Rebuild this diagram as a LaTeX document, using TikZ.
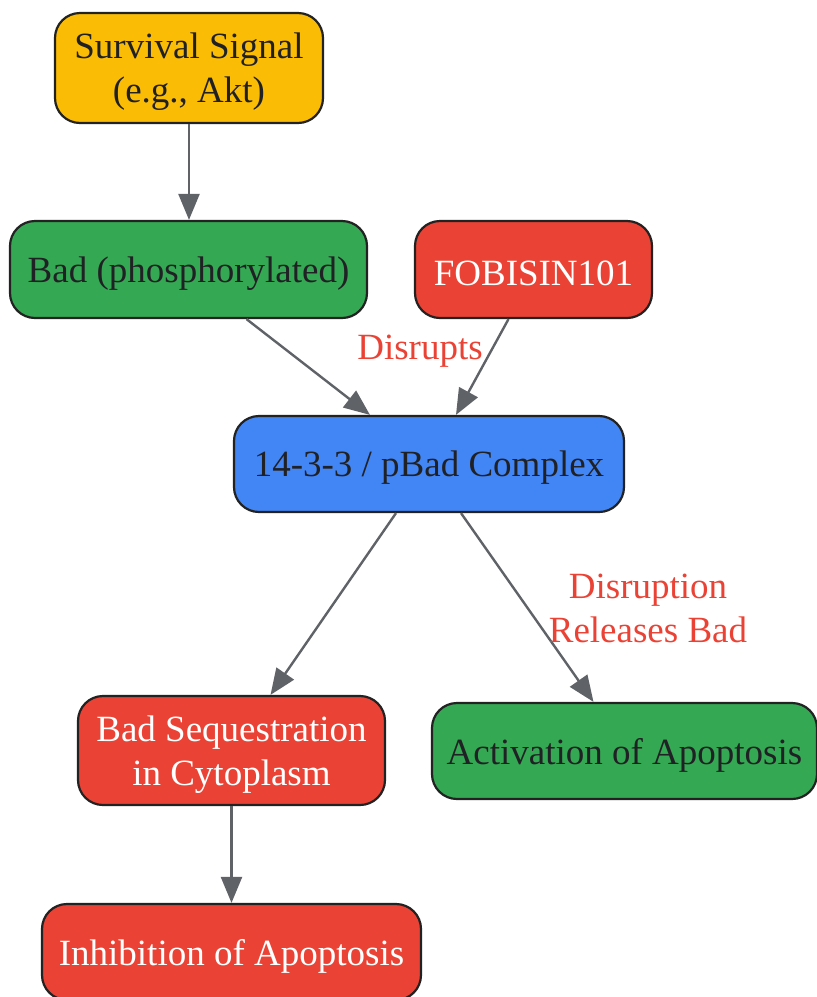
\documentclass[tikz,border=0pt]{standalone}
\usepackage{fontspec}
\setmainfont{Liberation Serif}
\usetikzlibrary{arrows.meta}
\definecolor{cyel}{HTML}{FBBC05}
\definecolor{cgreen}{HTML}{34A853}
\definecolor{cred}{HTML}{EA4335}
\definecolor{cblue}{HTML}{4285F4}
\definecolor{cedge}{HTML}{5F6368}
\definecolor{cborder}{HTML}{222222}
\definecolor{cdark}{HTML}{202124}
\tikzset{
  box/.style={draw=cborder, line width=2.2pt, rounded corners=25pt, inner sep=0pt},
  boxtext/.style={align=center, font=\fontsize{37}{44}\selectfont, inner sep=0pt},
  conn/.style={draw=cedge, line width=2.4pt, -{Triangle[length=26pt,width=21pt]}},
  elabel/.style={text=cred, font=\fontsize{37}{44}\selectfont, align=center}
}
\begin{document}
\begin{tikzpicture}[x=1pt,y=-1pt]
\useasboundingbox (0,0) rectangle (817,997);
\node[box, fill=cyel, minimum width=268pt, minimum height=110pt] (surv) at (189,68) {};
\node[box, fill=cgreen, minimum width=357pt, minimum height=97pt] (bad) at (188.5,269.5) {};
\node[box, fill=cred, minimum width=237pt, minimum height=97pt] (fob) at (533.5,269.5) {};
\node[box, fill=cblue, minimum width=390pt, minimum height=96pt] (cpx) at (429,464) {};
\node[box, fill=cred, minimum width=307pt, minimum height=109pt] (seq) at (231.5,750.5) {};
\node[box, fill=cgreen, minimum width=385pt, minimum height=96pt] (act) at (624.5,751) {};
\node[box, fill=cred, minimum width=379pt, minimum height=96pt] (inh) at (231.5,952) {};

\node[boxtext, text=cdark] (survt) at ([yshift=-4pt]surv.center) {Survival Signal\\(e.g., Akt)};
\node[boxtext, text=cdark] (badt) at ([yshift=-4pt]bad.center) {Bad (phosphorylated)};
\node[boxtext, text=white] (fobt) at ([yshift=-4pt]fob.center) {FOBISIN101};
\node[boxtext, text=cdark] (cpxt) at ([yshift=-4pt]cpx.center) {14-3-3 / pBad Complex};
\node[boxtext, text=white] (seqt) at ([yshift=-4pt]seq.center) {Bad Sequestration\\in Cytoplasm};
\node[boxtext, text=cdark] (actt) at ([yshift=-4pt]act.center) {Activation of Apoptosis};
\node[boxtext, text=white] (inht) at ([yshift=-4pt]inh.center) {Inhibition of Apoptosis};

\draw[conn] (surv.south) -- (surv.south |- bad.north);
\draw[conn] ([xshift=58pt]bad.south) -- ([xshift=-59pt]cpx.north);
\draw[conn] ([xshift=-25pt]fob.south) -- ([xshift=27pt]cpx.north);
\draw[conn] ([xshift=-33pt]cpx.south) -- ([xshift=39pt]seq.north);
\draw[conn] ([xshift=32pt]cpx.south) -- ([xshift=-31pt]act.north);
\draw[conn] (seq.south) -- (inh.north);

\node[elabel] (l1) at (420,351) {Disrupts};
\node[elabel] (l2) at (648,608) {Disruption\\Releases Bad};
\end{tikzpicture}
\end{document}
